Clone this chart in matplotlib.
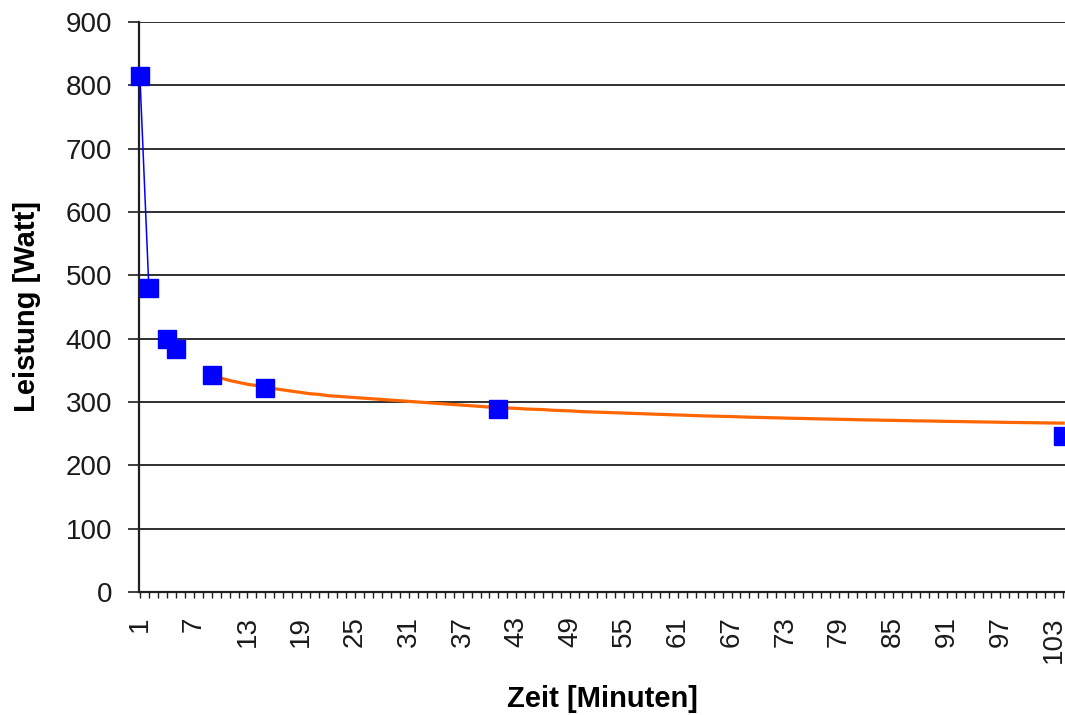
import matplotlib
matplotlib.use("Agg")
import matplotlib.pyplot as plt
from matplotlib.ticker import FixedLocator, FixedFormatter

plt.rcParams['font.family'] = ['Liberation Sans', 'DejaVu Sans']

# Measured points (blue squares)
point_minutes = [1, 2, 4, 5, 9, 15, 41, 104]
point_watts = [815, 480, 399, 383, 343, 322, 289, 246]

# Blue connecting line (first two measurements)
line_minutes = [1, 2]
line_watts = [815, 480]

# Orange curve, minutes 9..104
curve_minutes = list(range(9, 105))
curve_watts = [343, 338, 334, 331, 328, 326, 323, 321, 319, 317, 315, 313, 312, 310, 309, 308,
               307, 306, 305, 304, 303, 302, 301, 300, 299, 298, 297, 296, 295, 294, 293, 292,
               291, 290.5, 290, 289, 288.5, 288, 287, 286.5, 286, 285, 284.5, 284, 283.5, 283,
               282.5, 282, 281.5, 281, 280.5, 280, 279.5, 279, 278.5, 278, 277.7, 277.3, 277,
               276.5, 276, 275.7, 275.3, 275, 274.6, 274.2, 274, 273.6, 273.3, 273, 272.7, 272.4,
               272, 271.8, 271.5, 271.2, 271, 270.7, 270.4, 270.2, 270, 269.7, 269.4, 269.2, 269,
               268.7, 268.5, 268.3, 268, 267.8, 267.6, 267.4, 267.2, 267, 266.8, 266.6]

x_tick_labels = [str(m) for m in range(1, 104, 6)]
y_ticks = list(range(0, 901, 100))

W, H = 1065, 715
fig = plt.figure(figsize=(W / 100, H / 100), dpi=100)
ax = fig.add_axes([139 / W, 1 - 592 / H, (1065 - 139) / W, (592 - 22) / H])

ax.set_ylim(0, 900)
ax.set_xlim(0.9, 104.2)

for y in y_ticks[1:]:
    ax.axhline(y, color='#303030', lw=1.4, zorder=1)

ax.plot(curve_minutes, curve_watts, color='#FF6600', lw=2.3, zorder=3)
ax.plot(line_minutes, line_watts, color='#0000FF', lw=1.1, zorder=4)
ax.plot(point_minutes, point_watts, linestyle='none', marker='s', markersize=13.5,
        color='#0000FF', markeredgecolor='#0000FF', zorder=5, clip_on=False)

for s in ['top', 'right']:
    ax.spines[s].set_visible(False)
for s in ['left', 'bottom']:
    ax.spines[s].set_color('#202020')
    ax.spines[s].set_linewidth(1.6)

ax.set_yticks(y_ticks)
ax.set_yticklabels([str(v) for v in y_ticks])
ax.tick_params(axis='y', direction='out', length=8, width=1.2, color='#202020',
               labelsize=20, labelcolor='#1a1a1a', pad=11.5)

all_x = list(range(1, 105))
ax.xaxis.set_major_locator(FixedLocator(all_x))
labels = [str(m) if str(m) in x_tick_labels else '' for m in all_x]
ax.xaxis.set_major_formatter(FixedFormatter(labels))
ax.tick_params(axis='x', direction='out', length=4.5, width=1.0, color='#202020',
               labelsize=20, labelcolor='#1a1a1a', labelrotation=90, pad=13)

ax.set_ylabel('Leistung [Watt]', fontsize=21, fontweight='bold', va='center')
ax.yaxis.set_label_coords((27 - 139) / 926, 0.5)
ax.set_xlabel('Zeit [Minuten]', fontsize=21, fontweight='bold', va='center')
ax.xaxis.set_label_coords(0.5, -(699 - 592) / 570)

fig.savefig('out.png', dpi=100)
